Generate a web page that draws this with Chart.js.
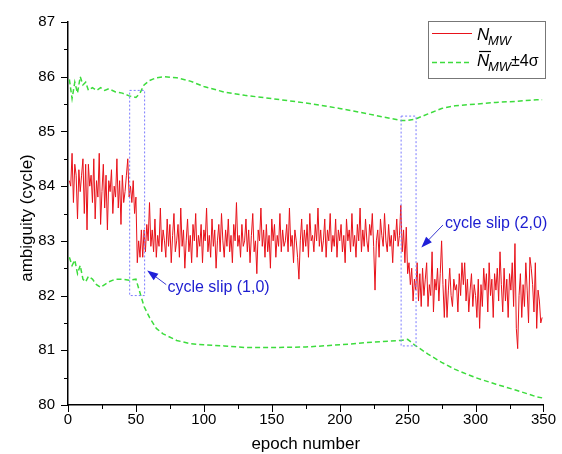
<!DOCTYPE html>
<html>
<head>
<meta charset="utf-8">
<script src="https://cdn.jsdelivr.net/npm/chart.js@4.4.1/dist/chart.umd.min.js"></script>
<style>
  html, body { margin:0; padding:0; background:#fff; }
  canvas { display:block; }
</style>
</head>
<body>
<canvas id="grafica" width="562" height="454"></canvas>
<script>
// N_MW series, one value per epoch starting at epoch 1
const nmw = [
  84.1, 84.0, 84.6, 83.7, 84.4, 84.2, 83.4, 84.3, 83.9, 84.2,
  84.5, 83.5, 84.4, 83.2, 84.4, 84.0, 84.2, 83.7, 84.5, 83.4,
  84.1, 83.8, 84.6, 83.3, 83.9, 84.4, 83.6, 84.2, 83.2, 84.1,
  83.9, 84.3, 83.5, 84.0, 83.8, 84.5, 83.6, 84.1, 83.3, 84.2,
  83.7, 83.9, 84.2, 84.5, 83.8, 84.0, 83.7, 84.1, 83.5, 83.8,
  82.6, 83.0, 82.7, 83.2, 82.7, 83.2, 82.8, 83.3, 83.0, 83.7,
  82.9, 83.2, 82.8, 83.4, 82.7, 83.1, 82.9, 83.6, 82.8, 83.2,
  83.0, 82.7, 83.4, 82.9, 83.3, 82.6, 83.1, 83.5, 82.8, 83.0,
  83.3, 82.7, 83.6, 82.9, 83.2, 82.5, 83.0, 83.4, 82.8, 83.1,
  82.6, 83.3, 83.0, 83.5, 82.7, 83.1, 82.9, 83.3, 82.6, 83.2,
  83.0, 83.6, 82.8, 83.1, 82.7, 83.4, 82.9, 83.2, 82.5, 83.0,
  83.3, 82.8, 83.5, 83.0, 82.7, 83.2, 82.9, 83.4, 82.8, 83.1,
  82.6, 83.3, 83.0, 83.7, 82.9, 83.1, 82.7, 83.3, 82.9, 83.0,
  83.4, 82.8, 83.2, 82.6, 83.1, 83.5, 82.8, 83.0, 82.4, 83.2,
  83.0, 83.6, 82.9, 83.2, 82.7, 83.3, 82.8, 83.1, 82.5, 83.4,
  83.0, 83.3, 82.7, 83.1, 82.9, 83.5, 82.8, 83.2, 82.9, 83.0,
  83.3, 82.8, 83.6, 82.9, 83.1, 82.6, 83.2, 83.0, 82.7, 82.3,
  83.0, 83.4, 82.8, 83.2, 82.9, 83.3, 82.7, 83.5, 83.0, 83.1,
  82.8, 83.3, 83.0, 83.6, 82.9, 83.2, 82.8, 83.0, 83.4, 82.7,
  83.2, 83.0, 83.5, 82.8, 83.1, 82.9, 83.4, 82.7, 83.2, 83.0,
  83.3, 82.8, 83.1, 82.6, 83.4, 83.0, 83.2, 82.8, 83.5, 82.9,
  83.1, 82.7, 83.3, 83.0, 83.6, 82.8, 83.2, 82.9, 83.4, 83.0,
  82.8, 83.3, 83.1, 83.5, 82.9, 82.1, 83.0, 83.2, 82.7, 83.4,
  83.1, 82.9, 83.5, 83.0, 82.8, 83.3, 82.9, 83.1, 82.6, 83.2,
  83.0, 83.4, 82.9, 83.1, 83.65, 82.8, 83.2, 82.6, 83.25, 82.4,
  82.6, 82.2, 82.5, 81.9, 82.3, 82.1, 82.6, 81.9, 82.4, 81.8,
  82.5, 82.0, 82.3, 82.6, 81.8, 82.2, 82.0, 82.8, 81.7, 82.3,
  82.1, 82.5, 81.9, 82.4, 83.0, 82.2, 81.6, 82.3, 81.6, 82.1,
  82.5, 82.0, 81.8, 82.3, 82.1, 82.2, 81.7, 82.4, 82.0, 82.6,
  82.2, 82.6, 81.9, 82.3, 81.7, 82.1, 82.4, 81.8, 82.2, 82.0,
  81.6, 82.3, 81.4, 82.2, 81.8, 82.5, 82.1, 82.4, 81.7, 82.6,
  82.0, 82.3, 81.6, 82.4, 82.1, 82.5, 81.9, 82.8, 82.2, 81.7,
  82.5, 81.9, 82.3, 81.6, 82.4, 82.1, 82.6, 81.8, 82.95, 81.4,
  81.03, 82.0, 82.4, 81.6, 82.2, 81.8, 82.6, 82.1, 81.5, 82.7,
  82.5, 82.2, 81.7, 82.6, 81.4, 82.1, 81.9, 81.5, 81.6
];

// bounds N_MW +/- 4 sigma, read at these epochs
const boundEpochs = [1,3,5,7,9,11,13,15,18,21,24,27,30,35,40,45,50,53,56,60,65,70,80,90,100,115,130,150,175,200,225,245,250,255,265,275,285,300,315,330,345,349];
const upperBound = [85.95,85.6,85.9,85.7,86.0,85.85,85.9,85.75,85.8,85.75,85.8,85.75,85.78,85.72,85.7,85.65,85.62,85.7,85.85,85.93,85.98,86.0,85.98,85.92,85.82,85.72,85.66,85.6,85.52,85.42,85.3,85.2,85.2,85.22,85.32,85.42,85.47,85.5,85.53,85.55,85.58,85.58];
const lowerBound = [82.7,82.55,82.65,82.4,82.55,82.3,82.25,82.35,82.3,82.2,82.15,82.2,82.25,82.3,82.3,82.28,82.3,82.05,81.8,81.6,81.4,81.3,81.18,81.12,81.1,81.08,81.05,81.05,81.06,81.1,81.15,81.18,81.2,81.1,80.93,80.78,80.65,80.5,80.38,80.27,80.15,80.13];

const xTicks = [0, 50, 100, 150, 200, 250, 300, 350];
const yTicks = [80, 81, 82, 83, 84, 85, 86, 87];

// cycle slip marks (epoch / ambiguity units)
const slipBoxes = [
  { x0: 45.4, x1: 56.4, y0: 82.0, y1: 85.75 },
  { x0: 245.2, x1: 256.2, y0: 81.08, y1: 85.28 }
];
const slipNotes = [
  { texto: "cycle slip (1,0)", tx: 73.2, ty: 82.15, ax0: 72.3, ay0: 82.2, ax1: 58.3, ay1: 82.46 },
  { texto: "cycle slip (2,0)", tx: 277.5, ty: 83.31, ax0: 276, ay0: 83.29, ax1: 260.1, ay1: 82.88 }
];

const FONT = "'Liberation Sans', Arial, sans-serif";
const ROJO = "#e8121a";
const VERDE = "#3ddc3d";

const puntosNmw = nmw.map((v, i) => ({ x: i + 1, y: v }));
const puntosSup = boundEpochs.map((e, i) => ({ x: e, y: upperBound[i] }));
const puntosInf = boundEpochs.map((e, i) => ({ x: e, y: lowerBound[i] }));

const extras = {
  id: "extras",
  afterDraw(chart) {
    const ctx = chart.ctx;
    const sx = chart.scales.x, sy = chart.scales.y;
    const area = chart.chartArea;

    ctx.save();
    // ticks, major and minor, outward
    ctx.strokeStyle = "#000";
    ctx.lineWidth = 1;
    ctx.beginPath();
    for (let v = 0; v <= 350; v += 25) {
      const px = Math.round(sx.getPixelForValue(v)) + 0.5;
      const len = v % 50 === 0 ? 7 : 4;
      ctx.moveTo(px, area.bottom);
      ctx.lineTo(px, area.bottom + len);
    }
    for (let v = 80; v <= 87; v += 0.5) {
      const py = Math.round(sy.getPixelForValue(v)) + 0.5;
      const len = Number.isInteger(v) ? 7 : 4;
      ctx.moveTo(area.left, py);
      ctx.lineTo(area.left - len, py);
    }
    ctx.stroke();

    // axis titles
    ctx.fillStyle = "#000";
    ctx.font = "17px " + FONT;
    ctx.textAlign = "center";
    ctx.textBaseline = "middle";
    ctx.fillText("epoch number", (area.left + area.right) / 2, 444);
    ctx.save();
    ctx.translate(27, 218);
    ctx.rotate(-Math.PI / 2);
    ctx.fillText("ambiguity (cycle)", 0, 0);
    ctx.restore();

    // dotted boxes
    ctx.strokeStyle = "#7b7bff";
    ctx.lineWidth = 1;
    ctx.setLineDash([2, 2]);
    slipBoxes.forEach(b => {
      const x0 = sx.getPixelForValue(b.x0), x1 = sx.getPixelForValue(b.x1);
      const y0 = sy.getPixelForValue(b.y0), y1 = sy.getPixelForValue(b.y1);
      ctx.strokeRect(x0, y1, x1 - x0, y0 - y1);
    });
    ctx.setLineDash([]);

    // arrows and notes
    slipNotes.forEach(n => {
      const x0 = sx.getPixelForValue(n.ax0), y0 = sy.getPixelForValue(n.ay0);
      const x1 = sx.getPixelForValue(n.ax1), y1 = sy.getPixelForValue(n.ay1);
      const ang = Math.atan2(y1 - y0, x1 - x0);
      ctx.strokeStyle = "#3a3ad0";
      ctx.fillStyle = "#1f1fd8";
      ctx.lineWidth = 1;
      ctx.beginPath();
      ctx.moveTo(x0, y0);
      ctx.lineTo(x1 - 8 * Math.cos(ang), y1 - 8 * Math.sin(ang));
      ctx.stroke();
      ctx.beginPath();
      ctx.moveTo(x1, y1);
      ctx.lineTo(x1 - 11 * Math.cos(ang) + 4 * Math.sin(ang), y1 - 11 * Math.sin(ang) - 4 * Math.cos(ang));
      ctx.lineTo(x1 - 11 * Math.cos(ang) - 4 * Math.sin(ang), y1 - 11 * Math.sin(ang) + 4 * Math.cos(ang));
      ctx.closePath();
      ctx.fill();

      ctx.fillStyle = "#1c1cd0";
      ctx.font = "16px " + FONT;
      ctx.textAlign = "left";
      ctx.textBaseline = "middle";
      ctx.fillText(n.texto, sx.getPixelForValue(n.tx), sy.getPixelForValue(n.ty));
    });

    // legend
    const lx = 428, ly = 21, lw = 117, lh = 57;
    ctx.fillStyle = "#fff";
    ctx.fillRect(lx, ly, lw, lh);
    ctx.strokeStyle = "#777";
    ctx.lineWidth = 1;
    ctx.strokeRect(lx + 0.5, ly + 0.5, lw, lh);

    ctx.strokeStyle = ROJO;
    ctx.lineWidth = 1.2;
    ctx.beginPath();
    ctx.moveTo(432, 33.5); ctx.lineTo(472, 33.5);
    ctx.stroke();
    ctx.strokeStyle = VERDE;
    ctx.lineWidth = 1.5;
    ctx.setLineDash([5, 3]);
    ctx.beginPath();
    ctx.moveTo(432, 62.5); ctx.lineTo(472, 62.5);
    ctx.stroke();
    ctx.setLineDash([]);

    ctx.fillStyle = "#000";
    ctx.textAlign = "left";
    ctx.textBaseline = "alphabetic";
    ctx.font = "italic 17px " + FONT;
    ctx.fillText("N", 477, 40);
    ctx.fillText("N", 477, 66);
    ctx.font = "italic 13px " + FONT;
    ctx.fillText("MW", 488, 45);
    ctx.fillText("MW", 488, 71);
    // bar over N
    ctx.strokeStyle = "#000";
    ctx.lineWidth = 1.2;
    ctx.beginPath();
    ctx.moveTo(479, 51.5); ctx.lineTo(491, 51.5);
    ctx.stroke();
    ctx.font = "16px " + FONT;
    ctx.fillText("\u00b14\u03c3", 511, 66);

    ctx.restore();
  }
};

new Chart(document.getElementById("grafica"), {
  type: "line",
  data: {
    datasets: [
      { label: "N_MW", data: puntosNmw, borderColor: ROJO, borderWidth: 1, pointRadius: 0, tension: 0, fill: false },
      { label: "upper", data: puntosSup, borderColor: VERDE, borderWidth: 1.5, borderDash: [5, 3], pointRadius: 0, tension: 0, fill: false },
      { label: "lower", data: puntosInf, borderColor: VERDE, borderWidth: 1.5, borderDash: [5, 3], pointRadius: 0, tension: 0, fill: false }
    ]
  },
  options: {
    responsive: false,
    animation: false,
    devicePixelRatio: 1,
    layout: { padding: { top: 18, right: 16, left: 0, bottom: 0 } },
    plugins: { legend: { display: false }, tooltip: { enabled: false } },
    scales: {
      x: {
        type: "linear", min: 0, max: 350,
        afterBuildTicks: s => { s.ticks = xTicks.map(v => ({ value: v })); },
        afterFit: s => { s.height = 49; },
        ticks: { color: "#000", font: { family: FONT, size: 15 }, padding: 6, maxRotation: 0 },
        grid: { drawOnChartArea: false, drawTicks: false },
        border: { display: true, color: "#000", width: 1.5 }
      },
      y: {
        type: "linear", min: 80, max: 87,
        afterBuildTicks: s => { s.ticks = yTicks.map(v => ({ value: v })); },
        afterFit: s => { s.width = 68; },
        ticks: { color: "#000", font: { family: FONT, size: 15 }, padding: 13 },
        grid: { drawOnChartArea: false, drawTicks: false },
        border: { display: true, color: "#000", width: 1.5 }
      }
    }
  },
  plugins: [extras]
});
</script>
</body>
</html>
